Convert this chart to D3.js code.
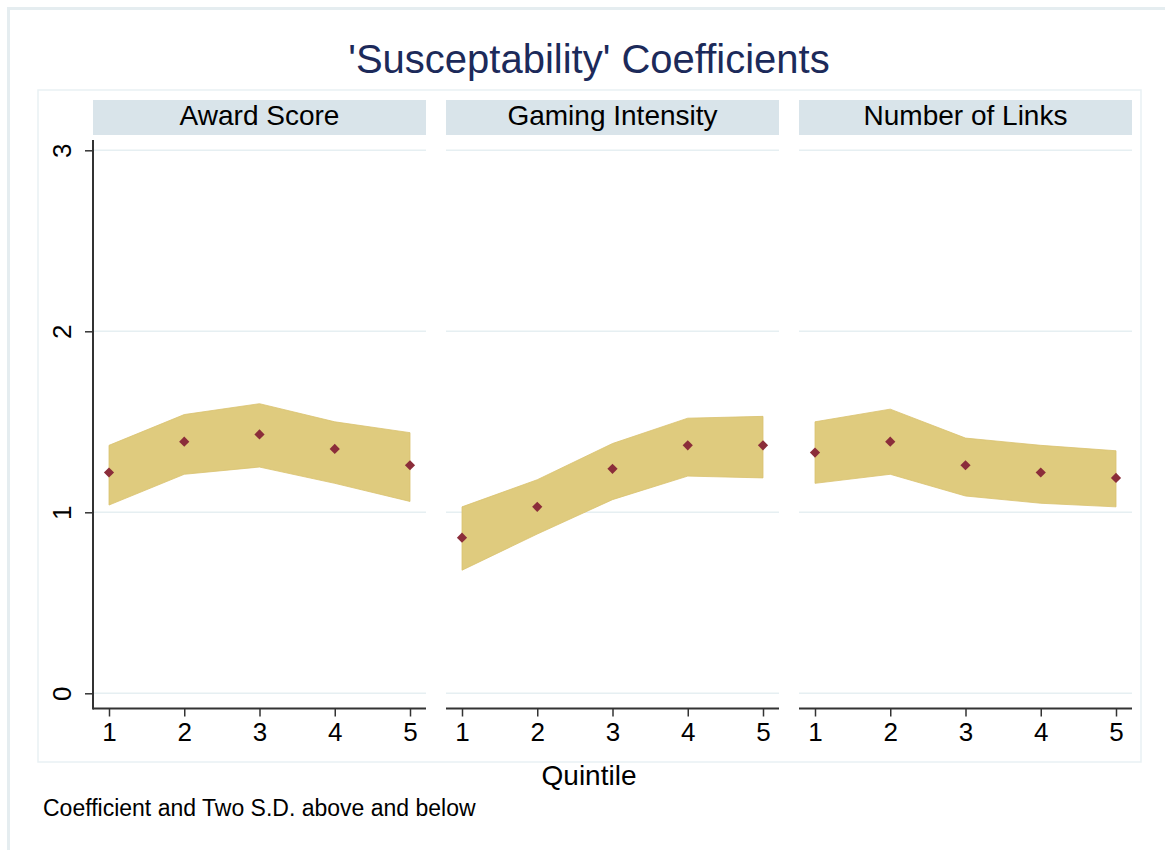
<!DOCTYPE html>
<html>
<head>
<meta charset="utf-8">
<script src="https://cdn.jsdelivr.net/npm/d3@7"></script>
<style>
  body { margin: 0; background: #fff; }
  svg { display: block; font-family: "Liberation Sans", Arial, sans-serif; }
</style>
</head>
<body>
<div id="chart"></div>
<script>
// Panels (facets) and quintile values
const panels = ['Award Score', 'Gaming Intensity', 'Number of Links'];
const quintiles = [1, 2, 3, 4, 5];
const yTicks = [0, 1, 2, 3];

// coefficient per quintile, one array per panel
const coefAward = [1.22, 1.39, 1.43, 1.35, 1.26];
const coefGaming = [0.86, 1.03, 1.24, 1.37, 1.37];
const coefLinks = [1.33, 1.39, 1.26, 1.22, 1.19];

// two S.D. above
const upperAward = [1.37, 1.54, 1.60, 1.50, 1.44];
const upperGaming = [1.03, 1.18, 1.38, 1.52, 1.53];
const upperLinks = [1.50, 1.57, 1.41, 1.37, 1.34];

// two S.D. below
const lowerAward = [1.04, 1.21, 1.25, 1.16, 1.06];
const lowerGaming = [0.68, 0.88, 1.07, 1.20, 1.19];
const lowerLinks = [1.16, 1.21, 1.09, 1.05, 1.03];

const coefs = [coefAward, coefGaming, coefLinks];
const uppers = [upperAward, upperGaming, upperLinks];
const lowers = [lowerAward, lowerGaming, lowerLinks];

const width = 1165, height = 850;
const svg = d3.select('#chart').append('svg')
    .attr('width', width)
    .attr('height', height);

// outer graph frame and inner plot region
svg.append('rect')
    .attr('x', 8.5).attr('y', 8.5)
    .attr('width', 1200).attr('height', 900)
    .attr('fill', '#fff')
    .attr('stroke', '#e5edf0')
    .attr('stroke-width', 3);

svg.append('rect')
    .attr('x', 38).attr('y', 90)
    .attr('width', 1103).attr('height', 672)
    .attr('fill', '#fff')
    .attr('stroke', '#e9f1f4')
    .attr('stroke-width', 1.5);

// title
svg.append('text')
    .attr('x', 589).attr('y', 73)
    .attr('text-anchor', 'middle')
    .attr('font-size', 40)
    .attr('fill', '#1c2a5a')
    .text("'Susceptability' Coefficients");

// layout of facets
const panelX0 = 93, panelW = 333, panelGap = 20;
const y = d3.scaleLinear().domain([0, 3]).range([693.3, 150.3]);
const x = d3.scaleLinear().domain([1, 5]).range([16, 317]);
const axisY = 708.5;

const area = d3.area()
    .x((d, i) => x(quintiles[i]))
    .y0(d => y(d[0]))
    .y1(d => y(d[1]));

panels.forEach((name, p) => {
    const g = svg.append('g')
        .attr('transform', `translate(${panelX0 + p * (panelW + panelGap)},0)`);

    // strip
    g.append('rect')
        .attr('x', 0).attr('y', 100)
        .attr('width', panelW).attr('height', 35)
        .attr('fill', '#d9e4ea');
    g.append('text')
        .attr('x', panelW / 2).attr('y', 125)
        .attr('text-anchor', 'middle')
        .attr('font-size', 28)
        .attr('fill', '#000')
        .text(name);

    // gridlines
    g.selectAll('.grid')
        .data(yTicks)
        .join('line')
        .attr('class', 'grid')
        .attr('x1', 0).attr('x2', panelW)
        .attr('y1', d => y(d)).attr('y2', d => y(d))
        .attr('stroke', '#e6eff2')
        .attr('stroke-width', 1.5);

    // band: coefficient +/- two S.D.
    const band = lowers[p].map((lo, i) => [lo, uppers[p][i]]);
    g.append('path')
        .datum(band)
        .attr('d', area)
        .attr('fill', '#dfcb7e')
        .attr('stroke', '#d9c26f')
        .attr('stroke-width', 0.8);

    // coefficient markers
    g.selectAll('.pt')
        .data(coefs[p])
        .join('path')
        .attr('class', 'pt')
        .attr('d', d3.symbol(d3.symbolSquare, 52))
        .attr('transform', (d, i) => `translate(${x(quintiles[i])},${y(d)}) rotate(45)`)
        .attr('fill', '#8b2d3a');

    // x axis
    const xAxis = g.append('g')
        .attr('transform', `translate(0,${axisY})`)
        .call(d3.axisBottom(x).tickValues(quintiles).tickSize(8).tickPadding(6).tickFormat(d3.format('d')));
    xAxis.select('.domain')
        .attr('d', `M0,0H${panelW}`)
        .attr('stroke', '#333')
        .attr('stroke-width', 2);
    xAxis.selectAll('.tick line').attr('stroke', '#333').attr('stroke-width', 1.5);
    xAxis.selectAll('.tick text')
        .attr('font-size', 26)
        .attr('font-family', '"Liberation Sans", Arial, sans-serif')
        .attr('fill', '#000');

    // y axis on first panel only
    if (p === 0) {
        const yAxis = g.append('g')
            .call(d3.axisLeft(y).tickValues(yTicks).tickSize(8).tickFormat(d3.format('d')));
        yAxis.select('.domain')
            .attr('d', `M0,140V${axisY + 1}`)
            .attr('stroke', '#333')
            .attr('stroke-width', 2);
        yAxis.selectAll('.tick line').attr('stroke', '#333').attr('stroke-width', 1.5);
        yAxis.selectAll('.tick text')
            .attr('font-size', 26)
            .attr('font-family', '"Liberation Sans", Arial, sans-serif')
            .attr('fill', '#000')
            .attr('text-anchor', 'middle')
            .attr('dy', null)
            .attr('x', null)
            .attr('transform', 'translate(-22,0) rotate(-90)');
    }
});

// x axis title
svg.append('text')
    .attr('x', 589).attr('y', 785)
    .attr('text-anchor', 'middle')
    .attr('font-size', 28)
    .attr('fill', '#000')
    .text('Quintile');

// note
svg.append('text')
    .attr('x', 43).attr('y', 816)
    .attr('font-size', 23)
    .attr('fill', '#000')
    .text('Coefficient and Two S.D. above and below');
</script>
</body>
</html>
